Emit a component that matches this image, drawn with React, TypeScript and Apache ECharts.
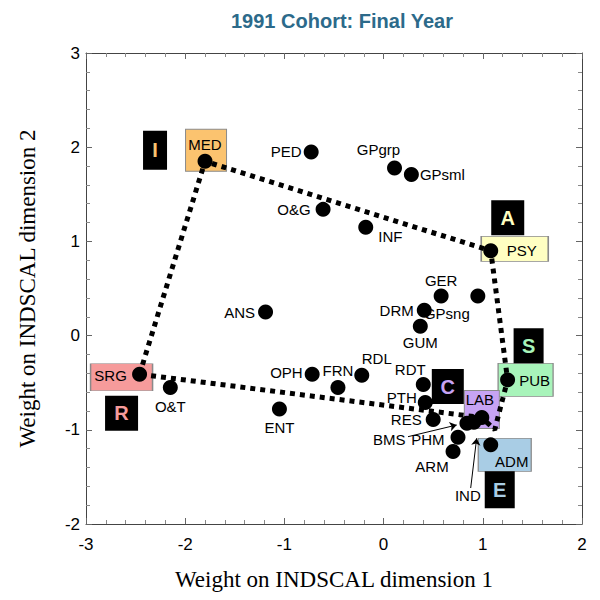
import React, { useEffect, useRef } from "react";
import * as echarts from "echarts";

// Specialties and their INDSCAL weights (dimension 1, dimension 2)
const names = ["MED", "PED", "GPgrp", "GPsml", "O&G", "INF", "PSY", "GER", "GPsng", "DRM", "GUM", "ANS", "SRG", "O&T", "ENT", "OPH", "FRN", "RDL", "RDT", "PTH", "RES", "PUB", "BMS", "IND", "LAB", "PHM", "ARM", "ADM"];
const dim1 = [-1.8, -0.73, 0.11, 0.28, -0.61, -0.18, 1.08, 0.58, 0.95, 0.41, 0.37, -1.19, -2.46, -2.15, -1.05, -0.72, -0.46, -0.22, 0.4, 0.42, 0.5, 1.25, 0.84, 0.91, 0.99, 0.75, 0.7, 1.08];
const dim2 = [1.85, 1.95, 1.78, 1.71, 1.34, 1.15, 0.9, 0.42, 0.42, 0.27, 0.1, 0.25, -0.41, -0.55, -0.78, -0.41, -0.55, -0.42, -0.52, -0.71, -0.89, -0.47, -0.93, -0.92, -0.87, -1.08, -1.23, -1.16];

// Dotted outline through the typical specialties
const hullNames = ["SRG", "MED", "PSY", "PUB", "corner", "LAB", "SRG"];
const hullCorner = [1.12, -1.0];

// Holland types (RIASEC) and their anchor specialties
const typeLetters = ["R", "I", "A", "S", "E", "C"];
const typeAnchors = ["SRG", "MED", "PSY", "PUB", "ADM", "LAB"];

// Arrows for crowded labels
const arrowLabels = ["BMS", "IND"];
const arrowFrom = [[0.246, -1.073], [0.878, -1.618]];
const arrowTo = [[0.737, -0.949], [0.938, -1.09]];

// Axis ticks
const xTicks = [-3, -2, -1, 0, 1, 2];
const yTicks = [-2, -1, 0, 1, 2, 3];

const SANS = "'Liberation Sans', Arial, sans-serif";
const SERIF = "'Liberation Serif', 'Times New Roman', serif";

const typeColor: Record<string, string> = {
  R: "#F69B9B",
  I: "#FBC36F",
  A: "#FFFFC2",
  S: "#A8F4BA",
  E: "#A9CDE5",
  C: "#C7A3F4",
};

// label placement (style only)
const labelCfg: Record<string, any> = {
  PED: { position: "left", distance: 2 },
  GPgrp: { position: "top", distance: 3, offset: [-16, 0] },
  GPsml: { position: "right", distance: 1 },
  "O&G": { position: "left", distance: 5 },
  INF: { position: "right", distance: 5, offset: [0, 9] },
  GER: { position: "top", distance: 1 },
  GPsng: { position: "bottom", distance: 2, offset: [-31, 0] },
  DRM: { position: "left", distance: 3 },
  GUM: { position: "bottom", distance: 1 },
  ANS: { position: "left", distance: 3 },
  "O&T": { position: "bottom", distance: 4 },
  ENT: { position: "bottom", distance: 3 },
  OPH: { position: "left", distance: 2, offset: [0, -2] },
  FRN: { position: "top", distance: 2 },
  RDL: { position: "top", distance: 2, offset: [15, 0] },
  RDT: { position: "top", distance: 0, offset: [-13, 0] },
  PTH: { position: "left", distance: 1, offset: [0, -5] },
  RES: { position: "left", distance: 4 },
  BMS: { position: "left", distance: 54, offset: [0, 16] },
  IND: { position: "bottom", distance: 58, offset: [-6, 0] },
  PHM: { position: "left", distance: 6, offset: [0, 2] },
  ARM: { position: "bottom", distance: 0, offset: [-21, 0] },
  MED: { position: "inside", offset: [0, -17] },
  PSY: { position: "inside", offset: [31, 0] },
  PUB: { position: "inside", offset: [27, 1] },
  LAB: { position: "inside", offset: [-2, -18] },
  ADM: { position: "inside", offset: [21, 17] },
  SRG: { position: "inside", offset: [-29, 1] },
};

// coloured name boxes around the anchor dots (style only)
const nameBox: Record<string, { size: number[]; offset: number[] }> = {
  SRG: { size: [62, 27], offset: [-18, 3] },
  MED: { size: [41, 42], offset: [1, -11] },
  PSY: { size: [67, 25], offset: [24, -2] },
  PUB: { size: [55, 33], offset: [18, 0] },
  ADM: { size: [53, 33], offset: [14, 10] },
  LAB: { size: [35, 38], offset: [0, -8] },
};

// black letter boxes (style only)
const letterBox: Record<string, { size: number[]; offset: number[] }> = {
  R: { size: [33, 35], offset: [-18, 39] },
  I: { size: [24, 39], offset: [-50, -11] },
  A: { size: [33, 35], offset: [17, -33] },
  S: { size: [30, 35], offset: [21, -34] },
  E: { size: [30, 37], offset: [9, 45] },
  C: { size: [32, 35], offset: [-34, -31] },
};

const idx = (n: string) => names.indexOf(n);
const pt = (n: string) => [dim1[idx(n)], dim2[idx(n)]];

export default function App() {
  const ref = useRef<HTMLDivElement>(null);
  useEffect(() => {
    if (!ref.current) return;
    const chart = echarts.init(ref.current, null, { renderer: "svg" });

    const pointData = names.map((n, i) => {
      const c = labelCfg[n] || { position: "right" };
      return {
        name: n,
        value: [dim1[i], dim2[i]],
        label: {
          show: true,
          formatter: n,
          position: c.position,
          distance: c.distance ?? 3,
          offset: c.offset ?? [0, 0],
        },
      };
    });

    const nameBoxData = typeAnchors.map((a, k) => ({
      name: a,
      value: pt(a),
      symbolSize: nameBox[a].size,
      symbolOffset: nameBox[a].offset,
      itemStyle: { color: typeColor[typeLetters[k]] },
    }));

    const letterData = typeLetters.map((l, k) => ({
      name: l,
      value: pt(typeAnchors[k]),
      symbolSize: letterBox[l].size,
      symbolOffset: letterBox[l].offset,
      label: {
        show: true,
        formatter: l,
        position: "inside",
        color: typeColor[l],
        fontSize: 20,
        fontWeight: "bold",
        fontFamily: SANS,
      },
    }));

    const hullData = hullNames.map((n) => (n === "corner" ? hullCorner : pt(n)));

    const arrowData = arrowLabels.map((n, k) => ({
      name: n,
      coords: [arrowFrom[k], arrowTo[k]],
    }));

    const axisCommon = {
      type: "value",
      interval: 1,
      axisLine: { show: true, onZero: false, lineStyle: { color: "#444", width: 1 } },
      axisTick: { show: true, inside: true, length: 6, lineStyle: { color: "#666" } },
      minorTick: { show: true, splitNumber: 5, length: 4, lineStyle: { color: "#888" } },
      splitLine: { show: false },
      minorSplitLine: { show: false },
    };

    chart.setOption({
      animation: false,
      backgroundColor: "#fff",
      title: {
        text: "1991 Cohort: Final Year",
        left: 226,
        top: 6,
        textStyle: { color: "#2C6A8A", fontSize: 20, fontWeight: "bold", fontFamily: SANS },
      },
      grid: { left: 86, right: 18, top: 53, bottom: 76, outerBoundsMode: "none", containLabel: false },
      xAxis: [
        {
          ...axisCommon,
          min: -3,
          max: 2,
          position: "bottom",
          name: "Weight on INDSCAL dimension 1",
          nameLocation: "middle",
          nameGap: 44,
          nameTextStyle: { fontFamily: SERIF, fontSize: 23, color: "#000" },
          axisLabel: { show: true, fontSize: 17, color: "#000", fontFamily: SANS, margin: 12, formatter: (v: number) => (xTicks.includes(v) ? String(v) : "") },
        },
        {
          ...axisCommon,
          min: -3,
          max: 2,
          position: "top",
          axisLabel: { show: false },
        },
      ],
      yAxis: [
        {
          ...axisCommon,
          min: -2,
          max: 3,
          position: "left",
          name: "Weight on INDSCAL dimension 2",
          nameLocation: "middle",
          nameGap: 47,
          nameTextStyle: { fontFamily: SERIF, fontSize: 23, color: "#000" },
          axisLabel: { show: true, fontSize: 17, color: "#000", fontFamily: SANS, margin: 6, formatter: (v: number) => (yTicks.includes(v) ? String(v) : "") },
        },
        {
          ...axisCommon,
          min: -2,
          max: 3,
          position: "right",
          axisLabel: { show: false },
        },
      ],
      series: [
        {
          type: "scatter",
          name: "nameBoxes",
          z: 1,
          symbol: "rect",
          data: nameBoxData,
          itemStyle: { borderColor: "#8a8a8a", borderWidth: 1, opacity: 1 },
          label: { show: false },
          silent: true,
        },
        {
          type: "line",
          name: "hull",
          z: 2,
          data: hullData,
          symbol: "none",
          lineStyle: { color: "#000", width: 5, type: [5, 5] },
          silent: true,
        },
        {
          type: "scatter",
          name: "letters",
          z: 2,
          symbol: "rect",
          data: letterData,
          itemStyle: { color: "#000", opacity: 1 },
          silent: true,
        },
        {
          type: "lines",
          coordinateSystem: "cartesian2d",
          z: 2,
          data: arrowData,
          symbol: ["none", "arrow"],
          symbolSize: 7,
          lineStyle: { color: "#000", width: 1, opacity: 1 },
          silent: true,
        },
        {
          type: "scatter",
          name: "specialties",
          z: 3,
          symbolSize: 15,
          itemStyle: { color: "#000", opacity: 1 },
          label: { color: "#000", fontSize: 15, fontFamily: SANS },
          data: pointData,
          silent: true,
        },
      ],
    });
    return () => chart.dispose();
  }, []);
  return <div ref={ref} style={{ width: 600, height: 600, position: "fixed", left: 0, top: 0 }} />;
}
